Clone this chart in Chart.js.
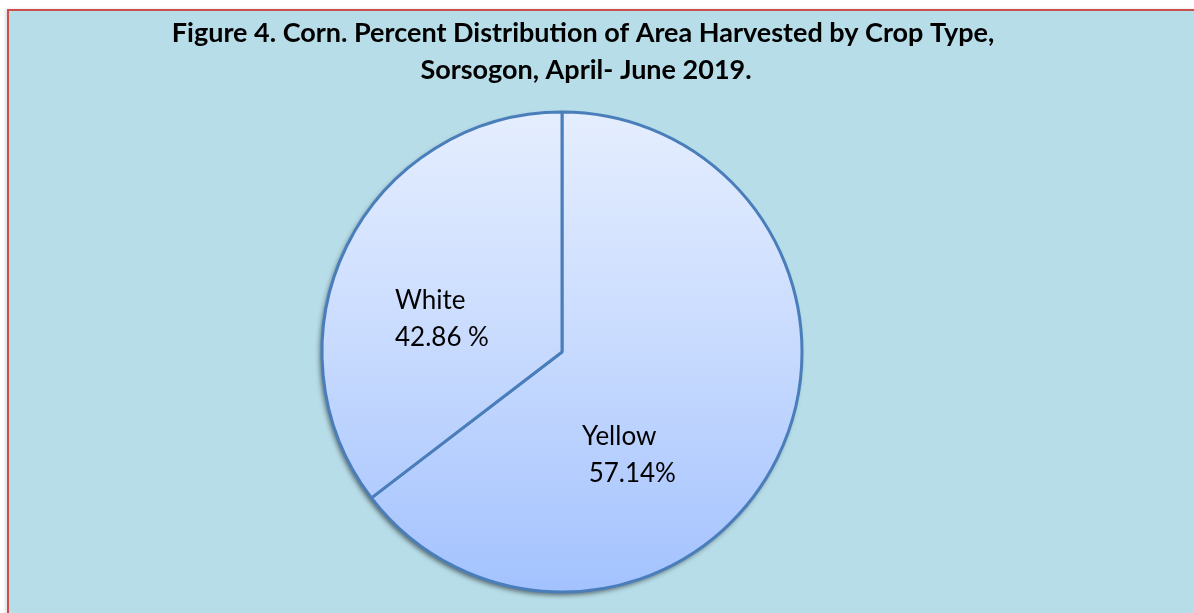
<!DOCTYPE html>
<html>
<head>
<meta charset="utf-8">
<script src="https://cdn.jsdelivr.net/npm/chart.js@4.4.1/dist/chart.umd.min.js"></script>
<style>
  html, body { margin: 0; padding: 0; background: #ffffff; width: 1194px; height: 613px; overflow: hidden; }
  #frame {
    position: absolute; left: 7px; top: 9px; width: 1200px; height: 620px;
    background: #B7DDE8; border: 2px solid #C9504D; box-sizing: border-box;
    box-shadow: -2px 0 3px rgba(0,0,0,0.12);
  }
  #wrap { position: absolute; left: 0; top: 0; width: 1194px; height: 613px; }
</style>
</head>
<body>
<div id="frame"></div>
<div id="wrap"><canvas id="c" width="1194" height="613"></canvas></div>
<script>
const titleLines = ['Figure 4. Corn. Percent Distribution of Area Harvested by Crop Type,', 'Sorsogon, April- June 2019.'];
const categories = ['Yellow', 'White'];
const sliceValues = [64.6, 35.4];
const labelTexts = [['Yellow', ' 57.14%'], ['White', '42.86 %']];

const labelOffsets = [{dx: 20, dy: 93}, {dx: -167, dy: -43}];
const PIE_R = 240;

const titlePlugin = {
  id: 'figTitle',
  afterDraw(chart) {
    const ctx = chart.ctx;
    ctx.save();
    ctx.fillStyle = '#000000';
    ctx.font = 'bold 27px Lato, "Noto Sans", sans-serif';
    ctx.textAlign = 'center';
    ctx.textBaseline = 'alphabetic';
    ctx.fillText(titleLines[0], 583, 42);
    ctx.fillText(titleLines[1], 586, 79);
    ctx.restore();
  }
};

const shadowPlugin = {
  id: 'pieShadow',
  beforeDatasetsDraw(chart) {
    const arc = chart.getDatasetMeta(0).data[0];
    if (!arc) return;
    const ctx = chart.ctx;
    ctx.save();
    ctx.shadowColor = 'rgba(0,0,0,0.55)';
    ctx.shadowBlur = 5;
    ctx.shadowOffsetX = -2;
    ctx.shadowOffsetY = 3;
    ctx.fillStyle = '#A5C4FE';
    ctx.beginPath();
    ctx.arc(arc.x, arc.y, arc.outerRadius, 0, Math.PI * 2);
    ctx.fill();
    ctx.restore();
  }
};

const labelPlugin = {
  id: 'sliceLabels',
  afterDatasetsDraw(chart) {
    const arc = chart.getDatasetMeta(0).data[0];
    if (!arc) return;
    const ctx = chart.ctx;
    ctx.save();
    ctx.fillStyle = '#000000';
    ctx.font = '26px Lato, "Noto Sans", sans-serif';
    ctx.textAlign = 'left';
    ctx.textBaseline = 'alphabetic';
    labelTexts.forEach((lines, i) => {
      const o = labelOffsets[i];
      lines.forEach((t, j) => {
        ctx.fillText(t, arc.x + o.dx, arc.y + o.dy + j * 37);
      });
    });
    ctx.restore();
  }
};

function pieGradient(context) {
  const chart = context.chart;
  const a = chart.chartArea;
  if (!a) return '#C6D9FE';
  const cy = (a.top + a.bottom) / 2;
  const g = chart.ctx.createLinearGradient(0, cy - PIE_R, 0, cy + PIE_R);
  g.addColorStop(0, '#E5EEFE');
  g.addColorStop(0.5, '#C7DAFE');
  g.addColorStop(1, '#A3C2FE');
  return g;
}

new Chart(document.getElementById('c'), {
  type: 'pie',
  data: {
    labels: categories,
    datasets: [{
      data: sliceValues,
      backgroundColor: pieGradient,
      borderColor: '#4A7EBB',
      borderWidth: 3,
      radius: PIE_R
    }]
  },
  options: {
    responsive: false,
    animation: false,
    devicePixelRatio: 1,
    layout: { padding: { left: 0, right: 70, top: 100, bottom: 9 } },
    plugins: {
      legend: { display: false },
      tooltip: { enabled: false },
      title: { display: false }
    }
  },
  plugins: [shadowPlugin, labelPlugin, titlePlugin]
});
</script>
</body>
</html>
